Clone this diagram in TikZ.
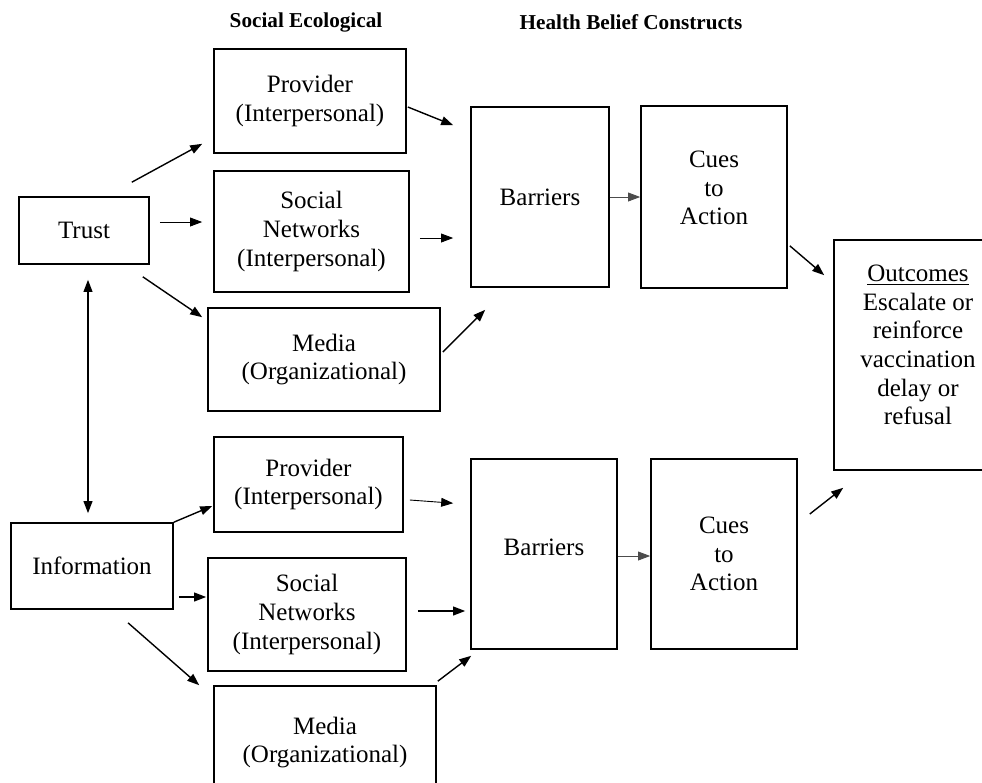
\documentclass[tikz,border=0pt]{standalone}
\usepackage{fontspec}
\setmainfont{Liberation Serif}
\usetikzlibrary{arrows.meta,positioning,calc}
\newcommand{\boxtext}{\fontsize{12.5}{14.3}\selectfont}
\newcommand{\headtext}{\fontsize{10.6}{12}\selectfont\bfseries}

\begin{document}
\begin{tikzpicture}[
    x=0.5pt, y=-0.5pt,
    box/.style 2 args={rectangle, draw, line width=0.8pt, minimum width=#1, minimum height=#2, inner sep=0pt, align=center, font=\boxtext},
    head/.style={font=\headtext},
    arr/.style={-{Triangle[length=6pt,width=4.4pt]}, line width=0.7pt},
    thinarr/.style={-{Triangle[length=6pt,width=4.4pt]}, line width=0.45pt},
    duo/.style={{Triangle[length=6pt,width=4.4pt]}-{Triangle[length=6pt,width=4.4pt]}, line width=0.7pt}
]
\useasboundingbox (0,0) rectangle (982,783);
\clip (0,0) rectangle (982,783);

% Column headings
\node[head] (hSoc) at (306,22) {Social Ecological};
\node[head] (hHbm) at (631,22) {Health Belief Constructs};

% Sources
\node[box={65pt}{33.5pt}] (trust) at (84,230.5) {Trust};
\node[box={81pt}{43pt}] (info) at (92,566) {Information};

% Social ecological levels, upper row
\node[box={96pt}{52pt}] (provA) at (310,101) {Provider\\(Interpersonal)};
\node[box={97.5pt}{60.5pt}] (socA) at (311.5,231.5) {Social\\Networks\\(Interpersonal)};
\node[box={116pt}{51.5pt}] (mediaA) at (324,359.5) {Media\\(Organizational)};

% Social ecological levels, lower row
\node[box={94.5pt}{47.5pt}] (provB) at (308.5,484.5) {Provider\\(Interpersonal)};
\node[box={99pt}{56.5pt}] (socB) at (307,614.5) {Social\\Networks\\(Interpersonal)};
\node[box={111pt}{56.5pt}] (mediaB) at (325,742.5) {Media\\(Organizational)};

% Health belief constructs
\node[box={69pt}{90pt}] (barA) at (540,197) {Barriers};
\node[box={73pt}{91pt}, text depth=9pt] (cuesA) at (714,197) {Cues\\to\\Action};
\node[box={73pt}{95pt}, text depth=7pt] (barB) at (544,554) {Barriers};
\node[box={73pt}{95pt}] (cuesB) at (724,554) {Cues\\to\\Action};

% Outcomes
\node[box={84pt}{115pt}, text depth=10pt] (outc) at (918,355) {\underline{Outcomes}\\Escalate or\\reinforce\\vaccination\\delay or\\refusal};

% Trust to levels
\draw[arr] ([shift={(-18,-14)}]trust.north east) -- ([shift={(-11,-10)}]provA.south west);
\draw[thinarr] ([shift={(10,-8.5)}]trust.east) -- ([shift={(-11,-9.5)}]socA.west);
\draw[arr] ([shift={(-7,12)}]trust.south east) -- ([shift={(-5,10)}]mediaA.north west);

% Upper levels to barriers
\draw[arr] ([shift={(1,6)}]provA.east) -- ([shift={(-17,19)}]barA.north west);
\draw[thinarr] ([shift={(10,6.5)}]socA.east) -- ([shift={(-17,41)}]barA.west);
\draw[arr] ([shift={(2,-7.5)}]mediaA.east) -- ([shift={(15,22)}]barA.south west);
\draw[thinarr, black!70] (barA.east) -- (cuesA.west);
\draw[arr] ([shift={(2,-43)}]cuesA.south east) -- ([shift={(-9,36)}]outc.north west);

% Trust and information
\draw[duo] ([shift={(4,15)}]trust.south) -- ([shift={(-4,-9)}]info.north);

% Information to levels
\draw[arr] (info.north east) -- ([shift={(-1,21.5)}]provB.west);
\draw[arr] ([shift={(5,31)}]info.east) -- ([shift={(-1,-17.5)}]socB.west);
\draw[arr] ([shift={(36,13)}]info.south) -- ([shift={(-14,0)}]mediaB.north west);

% Lower levels to barriers
\draw[thinarr] ([shift={(6,15.5)}]provB.east) -- ([shift={(-17,45)}]barB.north west);
\draw[arr] ([shift={(11,-3.5)}]socB.east) -- ([shift={(-5,57)}]barB.west);
\draw[arr] ([shift={(1,-4)}]mediaB.north east) -- ([shift={(1,6)}]barB.south west);
\draw[thinarr, black!70] ([yshift=-1pt]barB.east) -- ([yshift=-1pt]cuesB.west);
\draw[arr] ([shift={(12,-40)}]cuesB.east) -- ([shift={(10,17)}]outc.south west);
\end{tikzpicture}
\end{document}
